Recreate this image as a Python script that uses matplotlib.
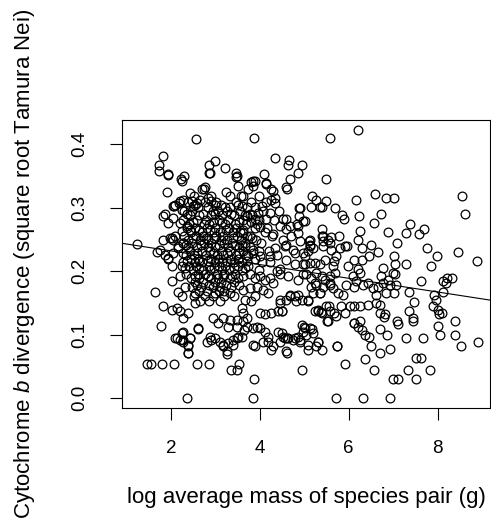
import numpy as np
import matplotlib
matplotlib.use("Agg")
import matplotlib.pyplot as plt

plt.rcParams["font.family"] = ["Liberation Sans", "DejaVu Sans"]
plt.rcParams["mathtext.fontset"] = "custom"
plt.rcParams["mathtext.rm"] = "Liberation Sans"
plt.rcParams["mathtext.it"] = "Liberation Sans:italic"

# ---- data (x = log average mass, y = sqrt Tamura-Nei divergence) ----
# pairs above ~0.33
high_x = [2.56, 3.87, 1.81, 1.73, 1.73, 1.93, 2.22, 2.30, 2.85, 3.00,
          2.86, 3.22, 3.46, 3.46, 4.35, 4.65, 4.64, 4.09, 4.15, 3.85,
          3.85, 4.95, 4.86, 4.67, 5.50, 6.20, 5.58, 1.94, 2.24, 2.88,
          3.48, 3.51, 3.81, 3.89, 4.15, 4.61]
high_y = [0.409, 0.410, 0.382, 0.367, 0.358, 0.352, 0.346, 0.350, 0.367, 0.373,
          0.355, 0.362, 0.355, 0.348, 0.378, 0.376, 0.367, 0.354, 0.339, 0.342,
          0.334, 0.367, 0.355, 0.345, 0.346, 0.423, 0.410, 0.353, 0.342, 0.355,
          0.350, 0.334, 0.340, 0.342, 0.337, 0.330]

# upper band 0.28 - 0.33
upper_x = [1.90, 2.74, 2.76, 3.24, 4.26, 4.34, 4.60, 2.43, 2.69, 2.84,
           2.91, 2.20, 2.09, 2.05, 2.24, 2.47, 2.50, 2.58, 2.65, 1.87,
           1.83, 2.05, 4.30, 4.26, 4.34, 3.74, 3.62, 3.59, 4.04, 3.96,
           4.22, 3.70, 5.18, 5.27, 5.16, 5.39, 5.50, 4.88, 4.88, 5.69,
           5.84, 5.89, 6.23, 6.72, 6.17, 6.60, 6.85, 7.01, 8.55, 8.61,
           5.35, 4.90]
upper_y = [0.325, 0.330, 0.332, 0.325, 0.329, 0.316, 0.332, 0.324, 0.329, 0.316,
           0.311, 0.311, 0.305, 0.303, 0.297, 0.311, 0.303, 0.308, 0.313, 0.290,
           0.287, 0.284, 0.326, 0.313, 0.308, 0.329, 0.318, 0.303, 0.303, 0.292,
           0.292, 0.287, 0.318, 0.313, 0.302, 0.302, 0.310, 0.300, 0.287, 0.299,
           0.288, 0.282, 0.287, 0.290, 0.312, 0.321, 0.315, 0.316, 0.318, 0.291,
           0.302, 0.300]

# small-bodied pairs on the left
left_x = [1.23, 1.68, 1.94, 2.02, 2.02, 1.83, 2.02, 2.09, 1.75, 1.87,
          1.94, 2.05, 2.16, 2.28, 1.64, 2.16, 2.24, 1.83, 2.02, 2.13,
          2.20, 2.39, 2.28, 2.54, 1.94,
          2.07, 2.19, 2.28, 2.20, 2.35, 2.24, 2.16, 2.28, 2.24, 2.20,
          2.31, 1.98, 2.04]
left_y = [0.243, 0.230, 0.220, 0.209, 0.184, 0.250, 0.253, 0.255, 0.234, 0.226,
          0.221, 0.229, 0.237, 0.245, 0.167, 0.167, 0.161, 0.145, 0.139, 0.142,
          0.137, 0.134, 0.126, 0.150, 0.276,
          0.303, 0.308, 0.313, 0.276, 0.271, 0.263, 0.240, 0.229, 0.208, 0.192,
          0.176, 0.253, 0.250]

# low divergence, x < ~5.4
low_x = [2.37, 3.85, 3.87, 1.47, 1.55, 1.80, 2.07, 2.59, 2.85, 3.36,
         3.49, 3.53, 2.39, 2.39, 2.43, 2.20, 2.09, 2.28, 2.24, 2.61,
         1.77, 2.61, 2.28, 2.13, 2.28, 2.43, 2.39, 2.39, 2.95, 3.18,
         3.33, 3.48, 3.06, 3.29, 3.48, 2.88, 2.99, 3.10, 3.18, 3.29,
         3.40, 3.51, 3.25, 3.85, 3.89, 3.93, 3.70, 4.00, 4.11, 4.19,
         4.00, 4.11, 4.26, 4.41, 3.62, 3.70, 3.62, 4.94, 5.01, 5.12,
         5.20, 5.31, 5.09, 5.09, 4.86, 4.90, 4.75, 4.64, 4.52, 4.41,
         4.45, 4.26, 4.60, 5.27, 5.39, 4.30, 4.07, 4.19, 3.85, 3.65,
         3.59, 3.48, 3.40, 3.27, 3.16, 2.91, 2.82]
low_y = [0.000, 0.000, 0.031, 0.054, 0.054, 0.054, 0.054, 0.054, 0.054, 0.045,
         0.045, 0.054, 0.072, 0.083, 0.095, 0.092, 0.095, 0.089, 0.103, 0.109,
         0.114, 0.111, 0.105, 0.095, 0.092, 0.095, 0.084, 0.071, 0.126, 0.126,
         0.124, 0.124, 0.118, 0.113, 0.113, 0.097, 0.095, 0.089, 0.084, 0.087,
         0.092, 0.097, 0.074, 0.084, 0.082, 0.113, 0.113, 0.111, 0.105, 0.097,
         0.134, 0.132, 0.134, 0.137, 0.134, 0.126, 0.121, 0.116, 0.111, 0.111,
         0.103, 0.089, 0.084, 0.076, 0.097, 0.089, 0.092, 0.095, 0.097, 0.105,
         0.089, 0.076, 0.074, 0.082, 0.076, 0.082, 0.089, 0.089, 0.111, 0.108,
         0.097, 0.095, 0.084, 0.070, 0.083, 0.092, 0.089]

# 0.13 - 0.20, x 3.5 - 5.7
lowmid_x = [3.62, 3.78, 3.89, 4.00, 4.11, 4.22, 4.30, 4.45, 4.38, 3.93,
            3.78, 3.62, 4.07, 4.19, 3.89, 3.66, 3.81, 3.59, 4.97, 5.16,
            5.39, 5.57, 5.69, 5.27, 5.35, 5.16, 4.86, 4.94, 5.09, 4.45,
            4.67, 4.82, 5.24, 5.31, 5.50, 5.57, 5.72, 5.53, 5.39, 5.42,
            5.35, 5.20, 5.09, 4.79, 4.67, 4.60, 4.45, 4.49, 5.05, 5.27,
            5.24, 5.46, 5.57, 4.45, 4.64, 4.86]
lowmid_y = [0.192, 0.195, 0.190, 0.192, 0.187, 0.190, 0.182, 0.195, 0.200, 0.176,
            0.174, 0.171, 0.171, 0.166, 0.161, 0.155, 0.153, 0.142, 0.196, 0.190,
            0.192, 0.192, 0.197, 0.179, 0.166, 0.176, 0.163, 0.155, 0.153, 0.155,
            0.161, 0.153, 0.137, 0.139, 0.145, 0.137, 0.129, 0.121, 0.134, 0.176,
            0.166, 0.166, 0.155, 0.161, 0.163, 0.155, 0.150, 0.137, 0.195, 0.197,
            0.182, 0.187, 0.179, 0.203, 0.192, 0.187]

# 0.19 - 0.29, x 3.6 - 6.7
mid_x = [4.60, 4.45, 4.67, 4.86, 4.90, 4.97, 4.75, 4.60, 4.52, 4.34,
         4.38, 4.22, 4.00, 3.85, 3.74, 3.66, 3.78, 3.62, 4.00, 3.89,
         3.70, 4.15, 4.30, 4.60, 4.97, 5.12, 5.35, 5.46, 5.65, 5.01,
         4.86, 5.39, 5.42, 5.53, 5.61, 5.80, 5.42, 5.12, 5.12, 5.20,
         4.52, 4.60, 4.71, 4.56, 4.79, 4.79, 5.01, 5.24, 5.01, 5.41,
         5.42, 5.61, 5.78, 5.57, 5.11, 5.14, 5.09, 5.91, 5.97, 5.72,
         5.67, 6.29, 6.51, 6.67, 6.46, 6.29, 6.13, 6.21, 6.25, 5.98,
         6.10, 4.84, 4.97, 6.25, 6.22, 6.57]
mid_y = [0.282, 0.271, 0.271, 0.261, 0.247, 0.229, 0.234, 0.242, 0.250, 0.237,
         0.226, 0.224, 0.224, 0.234, 0.224, 0.240, 0.255, 0.261, 0.269, 0.282,
         0.287, 0.282, 0.258, 0.218, 0.211, 0.213, 0.211, 0.218, 0.208, 0.279,
         0.271, 0.266, 0.255, 0.250, 0.234, 0.237, 0.240, 0.250, 0.242, 0.237,
         0.282, 0.266, 0.255, 0.240, 0.229, 0.211, 0.211, 0.213, 0.224, 0.255,
         0.248, 0.254, 0.255, 0.245, 0.247, 0.240, 0.232, 0.240, 0.240, 0.224,
         0.216, 0.237, 0.241, 0.230, 0.224, 0.218, 0.218, 0.203, 0.197, 0.209,
         0.192, 0.274, 0.279, 0.263, 0.250, 0.276]

# heavier pairs, right half
right_x = [7.39, 7.28, 7.69, 7.58, 7.09, 7.77, 7.98, 7.86, 8.47, 8.88,
           7.63, 8.12, 8.21, 8.33, 6.88, 7.02, 7.04, 7.30, 7.00, 7.05,
           6.77, 6.73, 6.88, 5.72, 6.32, 6.92, 4.94, 5.91, 6.36, 6.57,
           7.00, 7.12, 7.33, 7.51, 7.52, 7.63, 7.82, 5.74, 5.74, 4.62,
           6.70, 6.94, 6.51, 6.86, 6.71, 7.29, 7.67, 8.06, 8.40, 8.52,
           8.91, 8.40, 7.44, 7.44, 7.48, 7.35, 7.35, 7.09, 7.12, 6.36,
           6.46, 6.29, 6.21, 6.13, 6.25, 6.79, 6.82, 6.70, 6.70, 6.62,
           6.43, 6.25, 6.13, 5.52, 5.66, 5.56, 5.82, 5.31, 5.38, 5.31,
           5.18, 4.99, 4.97, 5.05, 4.90, 4.79, 4.62, 4.49, 4.56, 4.49,
           5.91, 6.02, 6.11, 8.01, 8.04, 8.10, 8.01, 7.90, 7.97, 7.92,
           8.12, 8.19,
           5.57, 5.65, 5.76, 5.87, 5.95, 6.13, 6.17, 6.32, 6.43, 6.55,
           6.66, 6.77, 6.92, 7.07, 6.85, 7.03, 6.62]
right_y = [0.274, 0.260, 0.267, 0.258, 0.245, 0.237, 0.224, 0.208, 0.230, 0.217,
           0.184, 0.184, 0.190, 0.190, 0.262, 0.224, 0.212, 0.211, 0.197, 0.195,
           0.205, 0.192, 0.187, 0.000, 0.000, 0.000, 0.045, 0.054, 0.062, 0.045,
           0.031, 0.031, 0.045, 0.031, 0.063, 0.063, 0.045, 0.083, 0.083, 0.071,
           0.071, 0.077, 0.083, 0.100, 0.109, 0.095, 0.095, 0.100, 0.100, 0.083,
           0.089, 0.122, 0.126, 0.121, 0.151, 0.137, 0.167, 0.121, 0.117, 0.100,
           0.097, 0.108, 0.113, 0.119, 0.121, 0.128, 0.132, 0.134, 0.147, 0.150,
           0.147, 0.145, 0.145, 0.121, 0.134, 0.146, 0.146, 0.137, 0.136, 0.089,
           0.109, 0.112, 0.104, 0.100, 0.092, 0.095, 0.095, 0.103, 0.095, 0.137,
           0.134, 0.145, 0.118, 0.114, 0.132, 0.134, 0.139, 0.145, 0.155, 0.163,
           0.168, 0.182,
           0.182, 0.174, 0.166, 0.163, 0.179, 0.176, 0.184, 0.179, 0.182, 0.174,
           0.176, 0.182, 0.179, 0.179, 0.166, 0.166, 0.163]

# dense core (x ~2.3 - 4.4), estimated row by row: (divergence, [log masses])
core_rows = [
    (0.318, [2.52, 2.91, 3.33, 3.58, 3.97]),
    (0.309, [2.38, 2.77, 3.02, 3.47, 3.79, 4.14]),
    (0.305, [2.55, 2.99, 3.12, 3.50]),
    (0.301, [2.61, 2.83, 3.21, 3.33, 3.71, 3.90]),
    (0.295, [2.29, 2.47, 2.95, 3.06, 3.27, 3.56, 4.07, 4.43]),
    (0.291, [2.36, 2.72, 3.00, 3.35, 3.77]),
    (0.288, [2.43, 2.63, 2.89, 3.15, 3.41, 3.66, 3.83]),
    (0.281, [2.27, 2.58, 2.79, 3.09, 3.28, 3.61, 3.98, 4.33]),
    (0.278, [2.50, 2.95, 3.14, 3.52, 3.80]),
    (0.275, [2.40, 2.74, 2.86, 3.22, 3.44, 3.69, 3.93]),
    (0.268, [2.35, 2.55, 2.81, 3.00, 3.31, 3.47, 3.88, 4.16]),
    (0.265, [2.42, 2.62, 2.88, 3.24, 3.62]),
    (0.262, [2.46, 2.69, 2.96, 3.11, 3.39, 3.55, 4.11]),
    (0.256, [2.30, 2.57, 2.72, 3.02, 3.18, 3.48, 3.70, 4.27]),
    (0.253, [2.50, 2.78, 2.97, 3.40, 3.83]),
    (0.250, [2.38, 2.66, 2.84, 3.13, 3.27, 3.58, 3.92]),
    (0.244, [2.26, 2.48, 2.75, 2.91, 3.19, 3.37, 3.66, 4.03]),
    (0.241, [2.33, 2.68, 3.09, 3.44, 3.60]),
    (0.238, [2.39, 2.58, 2.84, 3.00, 3.29, 3.53, 3.77]),
    (0.232, [2.43, 2.70, 2.88, 3.15, 3.33, 3.61, 3.97, 4.21]),
    (0.229, [2.59, 2.95, 3.26, 3.52, 3.85]),
    (0.226, [2.33, 2.52, 2.79, 3.03, 3.18, 3.46, 3.68]),
    (0.220, [2.44, 2.61, 2.89, 3.05, 3.34, 3.50, 3.90]),
    (0.217, [2.35, 2.63, 2.84, 3.26, 3.71]),
    (0.214, [2.27, 2.53, 2.70, 2.98, 3.14, 3.42, 3.60, 4.04, 4.23]),
    (0.208, [2.40, 2.57, 2.85, 3.07, 3.22, 3.51, 3.74]),
    (0.205, [2.31, 2.64, 2.96, 3.42, 3.66]),
    (0.202, [2.49, 2.72, 2.88, 3.15, 3.31, 3.59, 3.97]),
    (0.196, [2.34, 2.60, 2.77, 3.03, 3.20, 3.45]),
    (0.192, [2.53, 2.83, 3.16, 3.38]),
    (0.189, [2.46, 2.63, 2.90, 3.06, 3.33, 3.50]),
    (0.183, [2.55, 2.73, 2.99, 3.13, 3.41]),
    (0.179, [2.58, 2.86, 3.23, 3.53]),
    (0.176, [2.47, 2.68, 2.95, 3.10, 3.36]),
    (0.169, [2.62, 2.80, 3.07, 3.20]),
    (0.166, [2.55, 2.98, 3.33]),
    (0.161, [2.51, 2.77, 2.94, 3.19, 3.42]),
    (0.154, [2.66, 2.85, 3.11]),
]

# least-squares line as drawn in the reference
fit_intercept = 0.2538
fit_slope = -0.0108

x_ticks = [2, 4, 6, 8]
y_ticks = [0.0, 0.1, 0.2, 0.3, 0.4]
y_ticklabels = ["0.0", "0.1", "0.2", "0.3", "0.4"]

core_x = [x for y, xs in core_rows for x in xs]
core_y = [y for y, xs in core_rows for x in xs]

mass = np.array(high_x + upper_x + left_x + low_x + lowmid_x + mid_x + right_x + core_x)
div = np.array(high_y + upper_y + left_y + low_y + lowmid_y + mid_y + right_y + core_y)

W, H = 491, 522
fig = plt.figure(figsize=(W / 100, H / 100), dpi=100)
ax = fig.add_axes([122 / W, 1 - 408 / H, (490 - 122) / W, (408 - 120) / H])

ax.plot(mass, div, "o", mfc="none", mec="black", ms=6.3, mew=0.9)
line_x = np.array([0.0, 10.0])
ax.plot(line_x, fit_intercept + fit_slope * line_x, color="black", lw=0.8)

ax.set_xlim(0.898, 9.18)
ax.set_ylim(-0.0153, 0.4383)
ax.set_xticks(x_ticks)
ax.set_xticklabels([str(t) for t in x_ticks])
ax.set_yticks(y_ticks)
ax.set_yticklabels(y_ticklabels, rotation=90, va="center")
ax.tick_params(axis="both", length=8.6, width=0.8, labelsize=13.5, color="black")
ax.tick_params(axis="x", pad=14.5)
ax.tick_params(axis="y", pad=16)
for s in ax.spines.values():
    s.set_linewidth(0.8)

fig.text(306 / W, 1 - 498 / H, "log average mass of species pair (g)",
         ha="center", va="center", fontsize=16)
fig.text(25 / W, 1 - 264 / H, "Cytochrome $b$ divergence (square root Tamura Nei)",
         ha="center", va="center", rotation=90, fontsize=16)

fig.savefig("out.png", dpi=100)
